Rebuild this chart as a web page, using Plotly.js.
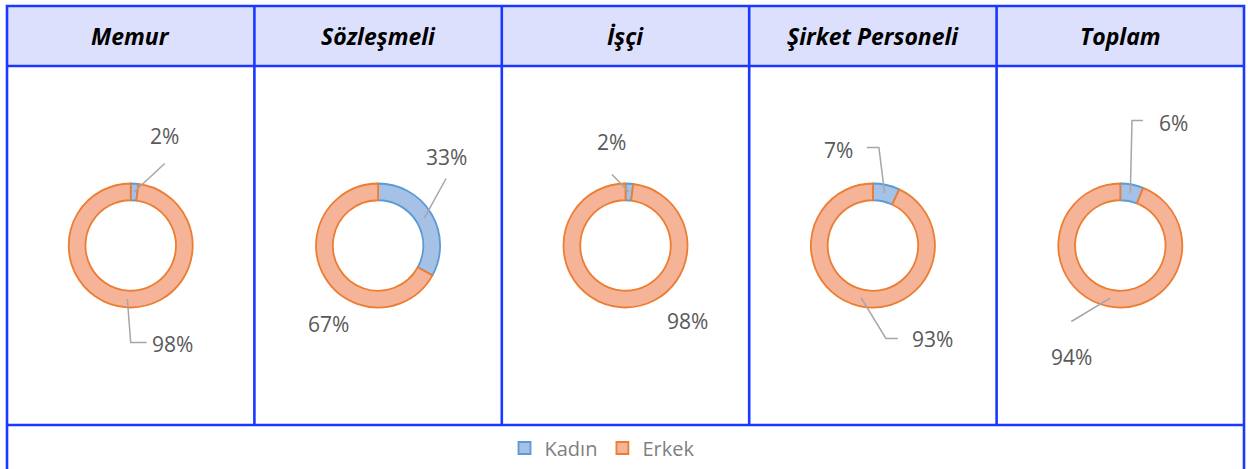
<!DOCTYPE html>
<html><head><meta charset="utf-8">
<script src="https://cdn.plot.ly/plotly-3.0.1.min.js"></script>
<style>html,body{margin:0;padding:0;background:#fff;}#chart{width:1248px;height:469px;}</style>
</head><body><div id="chart"></div>
<script>
// ---- data ----
const categories = ['Memur', 'Sözleşmeli', 'İşçi', 'Şirket Personeli', 'Toplam'];
const seriesNames = ['Kadın', 'Erkek'];
const kadin = [2, 33, 2, 7, 6];
const erkek = [98, 67, 98, 93, 94];

// ---- geometry / style ----
const W = 1248, H = 469;
const gLeft = 7, gRight = 1244, gTop = 6, headBottom = 66, legendTop = 425;
const colW = (gRight - gLeft) / categories.length;
const cy = (headBottom + legendTop) / 2;
const R = 62, hole = 0.73;
const px = x => x / W, py = y => 1 - y / H;
const fills = ['#A6C1E6', '#F5B398'];
const lines = ['#5B9BD5', '#ED7D31'];
const border = '#1A38FF';
const borderW = 2.6;
const headerBg = '#DDE0FC';
const labelColor = '#595959';
const leaderColor = '#A6A6A6';

// label placement (pixel offsets from donut centre) and leader elbow points
const labelStyle = [
  [{d: [34, -110], lead: [[34, -82]]}, {d: [42, 98], lead: [[16, 97], [0, 97]]}],
  [{d: [68, -89], lead: [[68, -67]]}, {d: [-50, 78], lead: null}],
  [{d: [-14.5, -103], lead: [[-13.5, -71]]}, {d: [61.5, 75], lead: null}],
  [{d: [-34, -96], lead: [[-6, -98], [6, -98]]}, {d: [60, 93], lead: [[25, 93], [13, 93]]}],
  [{d: [53, -122], lead: [[22.7, -125], [11.7, -125]]}, {d: [-49, 111], lead: [[-49, 76]]}]
];

const traces = [];
const shapes = [];
const annotations = [];

shapes.push({type: 'rect', xref: 'paper', yref: 'paper', x0: px(gLeft), x1: px(gRight), y0: py(headBottom), y1: py(gTop), fillcolor: headerBg, line: {width: 0}, layer: 'below'});

categories.forEach((cat, i) => {
  const cx = gLeft + colW * (i + 0.5);
  const vals = [kadin[i], erkek[i]];
  const total = vals[0] + vals[1];
  traces.push({
    type: 'pie', labels: seriesNames, values: vals, hole: hole, sort: false,
    direction: 'clockwise', rotation: 0, textinfo: 'none', hoverinfo: 'label+percent',
    showlegend: i === 0,
    marker: {colors: fills, line: {color: lines, width: 1.8}},
    domain: {x: [px(cx - R), px(cx + R)], y: [py(cy + R), py(cy - R)]}
  });
  annotations.push({xref: 'paper', yref: 'paper', x: px(cx), y: py((gTop + headBottom) / 2),
    text: cat, showarrow: false, xanchor: 'center', yanchor: 'middle',
    font: {family: 'Open Sans, sans-serif', size: 23, color: '#000', weight: 'bold', style: 'italic'}});
  let cum = 0;
  vals.forEach((v, k) => {
    const mid = (cum + v / 2) / total;
    cum += v;
    const th = mid * 2 * Math.PI;
    const rm = R * (1 + hole) / 2;
    const tip = [cx + rm * Math.sin(th), cy - rm * Math.cos(th)];
    const st = labelStyle[i][k];
    annotations.push({xref: 'paper', yref: 'paper', x: px(cx + st.d[0]), y: py(cy + st.d[1]),
      text: Math.round(v / total * 100) + '%', showarrow: false, xanchor: 'center', yanchor: 'middle',
      font: {family: 'Open Sans, sans-serif', size: 21, color: labelColor}});
    if (st.lead) {
      const pts = st.lead.map(p => [cx + p[0], cy + p[1]]).concat([tip]);
      const path = pts.map((p, j) => (j ? 'L' : 'M') + px(p[0]).toFixed(5) + ',' + py(p[1]).toFixed(5)).join(' ');
      shapes.push({type: 'path', xref: 'paper', yref: 'paper', path: path, line: {color: leaderColor, width: 1.5}});
    }
  });
  if (i > 0) {
    const x = gLeft + colW * i;
    shapes.push({type: 'line', xref: 'paper', yref: 'paper', x0: px(x), x1: px(x), y0: py(legendTop), y1: py(gTop), line: {color: border, width: borderW}});
  }
});

shapes.push({type: 'rect', xref: 'paper', yref: 'paper', x0: px(gLeft), x1: px(gRight), y0: py(H + 10), y1: py(gTop), line: {color: border, width: borderW}});
shapes.push({type: 'line', xref: 'paper', yref: 'paper', x0: px(gLeft), x1: px(gRight), y0: py(headBottom), y1: py(headBottom), line: {color: border, width: borderW}});
shapes.push({type: 'line', xref: 'paper', yref: 'paper', x0: px(gLeft), x1: px(gRight), y0: py(legendTop), y1: py(legendTop), line: {color: border, width: borderW}});

const layout = {
  width: W, height: H, margin: {l: 0, r: 0, t: 0, b: 0},
  paper_bgcolor: '#fff', plot_bgcolor: '#fff',
  showlegend: true,
  legend: {orientation: 'h', x: 0.5 - 22 / W, xanchor: 'center', y: py(448), yanchor: 'middle',
    font: {family: 'Open Sans, sans-serif', size: 20, color: '#7F7F7F'}, bgcolor: 'rgba(0,0,0,0)', traceorder: 'normal'},
  shapes: shapes, annotations: annotations
};
Plotly.newPlot('chart', traces, layout, {displayModeBar: false, staticPlot: true});
</script></body></html>
